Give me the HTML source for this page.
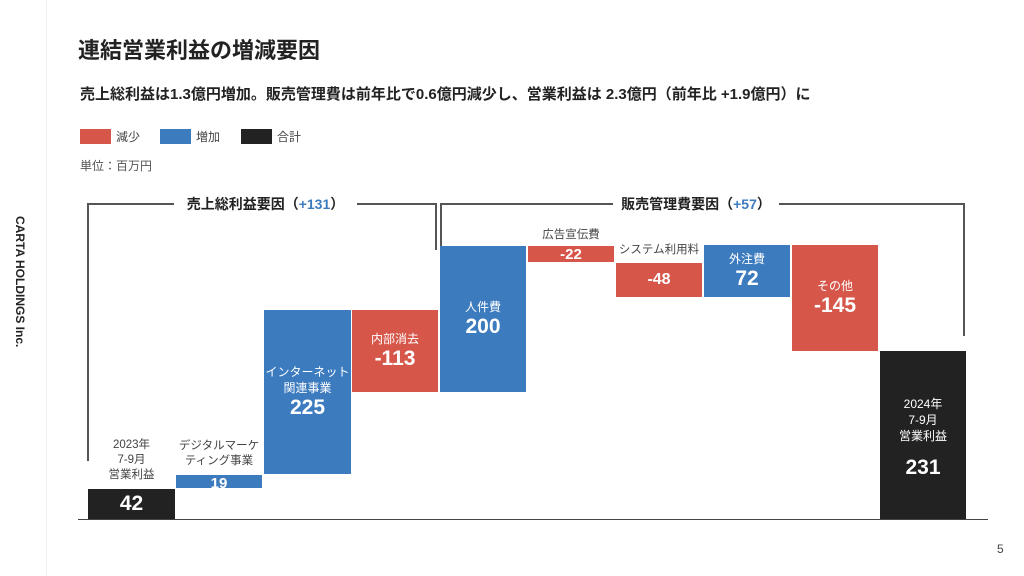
<!DOCTYPE html>
<html><head><meta charset="utf-8"><style>
body{margin:0;width:1024px;height:576px;background:#fff;position:relative;overflow:hidden;font-family:"Liberation Sans","Noto Sans CJK JP",sans-serif;color:#222}
.a{position:absolute}
.b{position:absolute;color:#fff;text-align:center;display:flex;flex-direction:column;align-items:center;justify-content:center}
.r{background:#d6574a}.u{background:#3d7bbf}.k{background:#222}
.s{font-size:12px;line-height:16px}
.n{font-size:21px;font-weight:bold;line-height:24px}
.l{position:absolute;background:#555}
.lab{position:absolute;font-size:11.5px;color:#444;text-align:center;line-height:15px}
</style></head><body>
<div class="a" style="left:46px;top:0;width:1px;height:576px;background:#eee"></div>
<div class="a" style="left:-40px;top:269px;width:120px;height:14px;font-size:12px;font-weight:bold;transform:rotate(90deg);text-align:center;line-height:14px;white-space:nowrap">CARTA HOLDINGS Inc.</div>
<div class="a" style="left:78px;top:33px;font-size:22px;font-weight:bold">連結営業利益の増減要因</div>
<div class="a" style="left:80px;top:83px;font-size:15px;font-weight:bold">売上総利益は1.3億円増加。販売管理費は前年比で0.6億円減少し、営業利益は 2.3億円（前年比 +1.9億円）に</div>
<div class="a r" style="left:80px;top:129px;width:31px;height:15px"></div><div class="a" style="left:116px;top:128px;font-size:12px;color:#444">減少</div>
<div class="a u" style="left:160px;top:129px;width:31px;height:15px"></div><div class="a" style="left:196px;top:128px;font-size:12px;color:#444">増加</div>
<div class="a k" style="left:241px;top:129px;width:31px;height:15px"></div><div class="a" style="left:277px;top:128px;font-size:12px;color:#444">合計</div>
<div class="a" style="left:80px;top:157px;font-size:12px;color:#555">単位：百万円</div>

<div class="l" style="left:87px;top:203px;width:2px;height:258px"></div>
<div class="l" style="left:87px;top:203px;width:87px;height:2px"></div>
<div class="l" style="left:357px;top:203px;width:80px;height:2px"></div>
<div class="l" style="left:435px;top:203px;width:2px;height:47px"></div>
<div class="a" style="left:174px;top:194px;width:183px;text-align:center;font-size:14px;font-weight:bold">売上総利益要因（<span style="color:#3d7bbf">+131</span>）</div>
<div class="l" style="left:440px;top:203px;width:2px;height:44px"></div>
<div class="l" style="left:440px;top:203px;width:173px;height:2px"></div>
<div class="l" style="left:779px;top:203px;width:186px;height:2px"></div>
<div class="l" style="left:963px;top:203px;width:2px;height:133px"></div>
<div class="a" style="left:613px;top:194px;width:166px;text-align:center;font-size:14px;font-weight:bold">販売管理費要因（<span style="color:#3d7bbf">+57</span>）</div>

<div class="a" style="left:78px;top:519px;width:910px;height:1px;background:#444"></div>

<div class="b k" style="left:88px;top:489px;width:87px;height:30px"><div class="n">42</div></div>
<div class="lab" style="left:88px;top:438px;width:87px">2023年<br>7-9月<br>営業利益</div>
<div class="b u" style="left:176px;top:475px;width:86px;height:13px;overflow:hidden"><div style="font-size:15px;font-weight:bold;line-height:13px;margin-top:4px">19</div></div>
<div class="lab" style="left:172px;top:439px;width:94px">デジタルマーケ<br>ティング事業</div>
<div class="b u" style="left:264px;top:310px;width:87px;height:164px"><div class="s">インターネット<br>関連事業</div><div class="n">225</div></div>
<div class="b r" style="left:352px;top:310px;width:86px;height:82px"><div class="s">内部消去</div><div class="n">-113</div></div>
<div class="b u" style="left:440px;top:246px;width:86px;height:146px"><div class="s">人件費</div><div class="n">200</div></div>
<div class="b r" style="left:528px;top:246px;width:86px;height:16px"><div style="font-size:15px;font-weight:bold">-22</div></div>
<div class="lab" style="left:528px;top:228px;width:86px">広告宣伝費</div>
<div class="b r" style="left:616px;top:263px;width:86px;height:34px"><div style="font-size:16px;font-weight:bold">-48</div></div>
<div class="lab" style="left:612px;top:243px;width:94px">システム利用料</div>
<div class="b u" style="left:704px;top:245px;width:86px;height:52px"><div class="s">外注費</div><div class="n">72</div></div>
<div class="b r" style="left:792px;top:245px;width:86px;height:106px"><div class="s">その他</div><div class="n">-145</div></div>
<div class="b k" style="left:880px;top:351px;width:86px;height:168px;justify-content:flex-start"><div class="s" style="margin-top:45px">2024年<br>7-9月<br>営業利益</div><div class="n" style="margin-top:12px">231</div></div>

<div class="a" style="left:997px;top:542px;font-size:12px;color:#444">5</div>
</body></html>
